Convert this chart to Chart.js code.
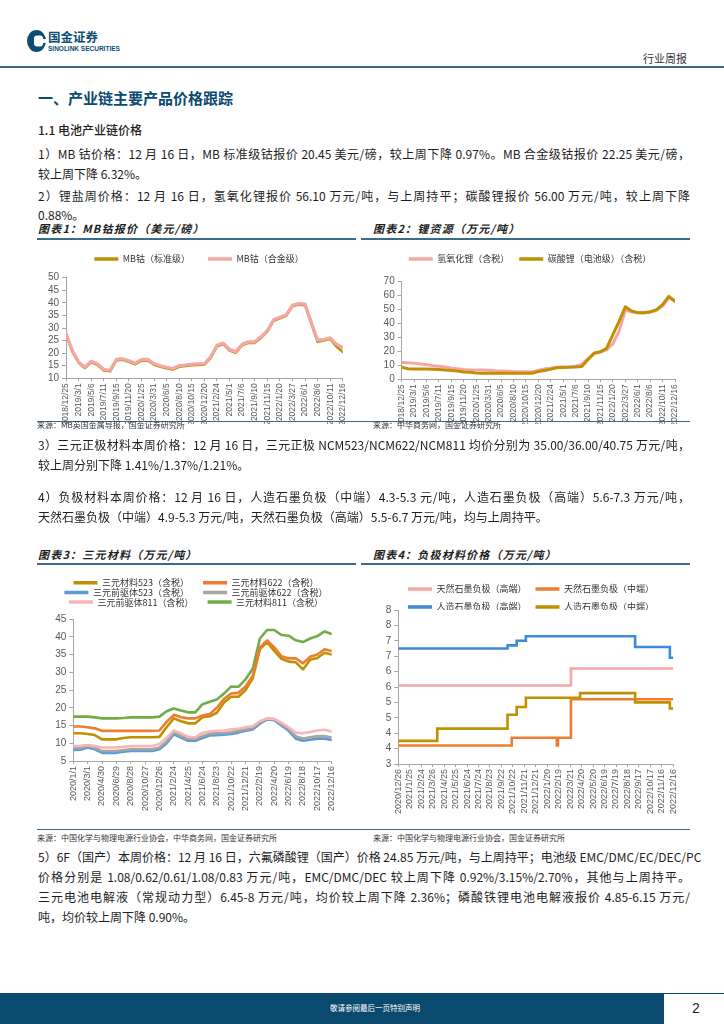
<!DOCTYPE html>
<html lang="zh-CN">
<head>
<meta charset="utf-8">
<title>产业链主要产品价格跟踪</title>
<script src="https://cdn.jsdelivr.net/npm/chart.js@4.4.1/dist/chart.umd.min.js"></script>
<style>
  html, body { margin: 0; padding: 0; background: #ffffff; }
  body { position: relative; width: 724px; height: 1024px; overflow: hidden;
         font-family: "Noto Sans CJK SC", "Noto Sans", sans-serif; color: #1e1e1e; }
  .t { position: absolute; white-space: nowrap; }
  .line { position: absolute; left: 38px; width: 652px; height: 20px; line-height: 20px; font-size: 12px; white-space: nowrap; }
  .just { text-align: justify; text-align-last: justify; }
  .ctitle { position: absolute; height: 16px; line-height: 16px; font-size: 11px; font-weight: 700; font-style: italic; letter-spacing: 1.2px; color: #1e1e1e; white-space: nowrap; }
  .rule { position: absolute; height: 1.5px; background: #3a6b8c; }
  .src { position: absolute; height: 12px; line-height: 12px; font-size: 8px; color: #333; white-space: nowrap; }
  canvas { position: absolute; }
</style>
</head>
<body>
<!-- header -->
<svg class="t" style="left:26px;top:29px" width="22" height="24" viewBox="0 0 22 24">
  <ellipse cx="10.5" cy="12" rx="9.5" ry="11" fill="#0b4d74"/>
  <rect x="8" y="6.5" width="9" height="11" rx="3" fill="#ffffff"/>
  <rect x="14" y="10" width="8" height="4" fill="#ffffff"/>
</svg>
<div class="t" style="left:48px;top:30px;font-size:12.5px;font-weight:700;color:#0b4d74;line-height:14px;">国金证券</div>
<div class="t" style="left:48px;top:45px;font-size:6.5px;font-weight:700;color:#0b4d74;line-height:8px;font-family:'Liberation Sans',Arial,sans-serif;">SINOLINK SECURITIES</div>
<div class="t" style="left:643px;top:51px;font-size:11px;line-height:14px;color:#333;">行业周报</div>
<div class="t" style="left:0;top:66px;width:724px;height:1.5px;background:#3a6886;"></div>

<div class="t" style="left:38px;top:88px;font-size:15px;line-height:20px;font-weight:700;color:#0b4a70;">一、产业链主要产品价格跟踪</div>
<div class="t" style="left:38px;top:120px;font-size:12px;line-height:20px;font-weight:500;">1.1 电池产业链价格</div>

<div class="line just" style="top:144px">1）MB 钴价格：12 月 16 日，MB 标准级钴报价 20.45 美元/磅，较上周下降 0.97%。MB 合金级钴报价 22.25 美元/磅，</div>
<div class="line" style="top:164px">较上周下降 6.32%。</div>
<div class="line just" style="top:186px">2）锂盐周价格：12 月 16 日，氢氧化锂报价 56.10 万元/吨，与上周持平；碳酸锂报价 56.00 万元/吨，较上周下降</div>
<div class="line" style="top:205px">0.88%。</div>

<div class="ctitle" style="left:38px;top:220px;">图表1：MB钴报价（美元/磅）</div>
<div class="ctitle" style="left:373px;top:220px;">图表2：锂资源（万元/吨）</div>
<div class="rule" style="left:37px;top:238px;width:319px;"></div>
<div class="rule" style="left:361px;top:238px;width:329px;"></div>

<canvas id="c1" width="318" height="188" style="left:37px;top:236px"></canvas>
<canvas id="c2" width="328" height="188" style="left:362px;top:236px"></canvas>

<div class="t" style="left:37px;top:421px;width:653px;height:1px;background:#3a6b8c;"></div>
<div class="src" style="left:37px;top:419px;">来源：MB英国金属导报，国金证券研究所</div>
<div class="src" style="left:373px;top:419px;">来源：中华商务网，国金证券研究所</div>

<div class="line just" style="top:435px">3）三元正极材料本周价格：12 月 16 日，三元正极 NCM523/NCM622/NCM811 均价分别为 35.00/36.00/40.75 万元/吨，</div>
<div class="line" style="top:455px">较上周分别下降 1.41%/1.37%/1.21%。</div>
<div class="line just" style="top:487px">4）负极材料本周价格：12 月 16 日，人造石墨负极（中端）4.3-5.3 元/吨，人造石墨负极（高端）5.6-7.3 万元/吨，</div>
<div class="line" style="top:507px">天然石墨负极（中端）4.9-5.3 万元/吨，天然石墨负极（高端）5.5-6.7 万元/吨，均与上周持平。</div>

<div class="ctitle" style="left:38px;top:546px;">图表3：三元材料（万元/吨）</div>
<div class="ctitle" style="left:373px;top:546px;">图表4：负极材料价格（万元/吨）</div>
<div class="rule" style="left:37px;top:563px;width:319px;"></div>
<div class="rule" style="left:361px;top:563px;width:329px;"></div>

<canvas id="c3" width="318" height="262" style="left:37px;top:565px"></canvas>
<canvas id="c4" width="328" height="262" style="left:362px;top:565px"></canvas>

<div class="t" style="left:37px;top:829px;width:653px;height:1px;background:#3a6b8c;"></div>
<div class="src" style="left:37px;top:832px;">来源：中国化学与物理电源行业协会，中华商务网，国金证券研究所</div>
<div class="src" style="left:373px;top:832px;">来源：中国化学与物理电源行业协会，国金证券研究所</div>

<div class="line just" style="top:847px">5）6F（国产）本周价格：12 月 16 日，六氟磷酸锂（国产）价格 24.85 万元/吨，与上周持平；电池级 EMC/DMC/EC/DEC/PC</div>
<div class="line just" style="top:867px">价格分别是 1.08/0.62/0.61/1.08/0.83 万元/吨，EMC/DMC/DEC 较上周下降 0.92%/3.15%/2.70%，其他与上周持平。</div>
<div class="line just" style="top:887px">三元电池电解液（常规动力型）6.45-8 万元/吨，均价较上周下降 2.36%；磷酸铁锂电池电解液报价 4.85-6.15 万元/</div>
<div class="line" style="top:907px">吨，均价较上周下降 0.90%。</div>

<!-- footer -->
<div class="t" style="left:0;top:993px;width:724px;height:1px;background:#0a4a6e;"></div>
<div class="t" style="left:0;top:994px;width:664px;height:30px;background:#0a4a6e;"></div>
<div class="t" style="left:0;top:1001px;width:750px;text-align:center;font-size:7.5px;line-height:14px;color:#ffffff;">敬请参阅最后一页特别声明</div>
<div class="t" style="left:692px;top:999px;font-size:14px;line-height:18px;color:#222;font-family:'Liberation Sans Narrow','Liberation Sans',sans-serif;">2</div>

<script>
// ---------------- data ----------------
// Chart 1 & 2 : x-axis tick dates (66-day spacing)
const ticksMB = ['2018/12/25','2019/3/1','2019/5/6','2019/7/11','2019/9/15','2019/11/20','2020/1/25','2020/3/31','2020/6/5','2020/8/10','2020/10/15','2020/12/20','2021/2/24','2021/5/1','2021/7/6','2021/9/10','2021/11/15','2022/1/20','2022/3/27','2022/6/1','2022/8/6','2022/10/11','2022/12/16'];
// sample days (offset from 2018/12/25)
const daysMB = [0,33,66,99,132,165,198,231,264,297,330,363,396,429,462,495,528,561,594,627,660,693,726,759,792,825,858,891,924,957,990,1023,1056,1089,1122,1155,1188,1221,1254,1287,1320,1353,1386,1419,1452];
const cobaltStd   = [27.3,20.6,16.2,14.1,16.4,15.4,13.1,12.8,17.1,17.4,16.6,15.6,17.0,17.1,15.4,14.6,14.0,13.5,14.6,14.9,15.2,15.3,15.4,18.1,22.7,23.6,21.0,20.2,23.1,24.1,24.1,26.1,28.6,32.9,33.9,34.9,38.6,39.3,39.1,31.8,24.5,25.0,25.7,22.6,20.45];
const cobaltAlloy = [27.9,21.0,16.5,14.5,16.8,15.8,13.5,13.2,17.5,17.8,17.0,16.0,17.4,17.5,15.8,15.0,14.4,13.9,15.0,15.3,15.6,15.7,15.8,18.5,23.1,24.0,21.4,20.6,23.5,24.5,24.5,26.5,29.0,33.3,34.3,35.3,39.0,39.7,39.5,32.2,25.2,25.4,26.1,23.5,22.25];
const lithiumHydroxide = [12.0,11.8,11.5,11.0,10.5,9.8,9.3,8.8,8.0,7.5,7.0,6.7,6.7,6.7,6.5,6.2,6.0,5.8,5.6,5.5,5.5,5.5,6.3,7.5,8.0,8.6,8.8,9.0,9.3,10.8,15.0,18.5,19.5,21.1,25.5,34.5,49.5,48.5,47.8,47.8,48.0,49.5,52.5,58.5,56.1];
const lithiumCarbonate = [8.6,7.6,7.4,7.4,7.4,7.2,7.0,6.6,6.3,6.0,5.2,5.0,4.5,4.3,4.3,4.3,4.3,4.3,4.3,4.3,4.3,4.3,5.6,6.3,7.3,8.3,8.5,8.6,8.8,9.2,14.2,18.8,19.8,22.3,32.0,41.5,52.0,49.0,47.8,47.8,48.5,49.8,53.5,59.5,56.0];

// Chart 3 : ternary materials (offset from 2020/1/1)
const ticksNCM = ['2020/1/1','2020/3/1','2020/4/30','2020/6/29','2020/8/28','2020/10/27','2020/12/26','2021/2/24','2021/4/25','2021/6/24','2021/8/23','2021/10/22','2021/12/21','2022/2/19','2022/4/20','2022/6/19','2022/8/18','2022/10/17','2022/12/16'];
const daysNCM = [0,30,60,90,120,150,180,210,240,270,300,330,360,390,420,450,480,510,540,570,600,630,660,690,720,750,780,810,840,870,900,930,960,990,1020,1050,1080];
const mat523 = [12.8,12.8,12.6,12.3,11.1,11.1,11.1,11.5,11.7,11.7,11.7,11.7,11.8,14.5,17.0,16.2,15.6,15.6,17.3,17.6,18.6,21.5,23.1,23.1,25.0,28.3,36.5,38.5,36.0,33.8,33.0,32.8,30.8,33.5,34.0,35.5,35.0];
const mat622 = [14.7,14.7,14.5,14.2,13.5,13.5,13.5,13.5,13.5,13.5,13.5,13.5,13.6,16.0,18.0,17.3,17.0,17.0,17.8,18.2,20.0,22.5,24.0,24.2,26.0,29.0,37.0,39.0,37.0,34.5,33.9,33.9,32.5,34.4,35.0,36.5,36.0];
const pre523 = [8.1,8.2,8.8,8.3,7.3,7.3,7.3,7.6,7.8,7.8,7.8,7.8,8.3,10.0,12.5,11.6,10.7,10.7,11.5,12.2,12.3,12.4,12.6,13.0,13.5,13.9,15.5,16.7,16.5,15.0,13.5,11.3,10.7,11.0,11.3,11.3,10.9];
const pre622 = [8.6,8.7,9.2,8.8,7.8,7.8,7.8,8.1,8.3,8.3,8.3,8.3,8.8,10.5,13.0,12.1,11.2,11.2,12.0,12.7,12.8,12.9,13.1,13.5,13.9,14.3,15.9,16.9,16.8,15.4,14.0,12.0,11.3,11.7,12.0,12.0,11.6];
const pre811 = [9.2,9.3,9.5,9.2,8.8,8.8,8.8,9.0,9.2,9.2,9.2,9.2,9.8,11.5,13.6,12.8,11.8,11.7,12.9,13.3,13.5,13.6,13.9,14.1,14.5,14.8,16.2,17.0,16.8,15.8,14.5,13.0,12.8,13.2,13.6,13.8,13.3];
const mat811 = [17.5,17.5,17.5,17.3,17.0,17.0,17.0,17.1,17.3,17.3,17.3,17.3,17.5,19.0,19.8,19.2,18.7,18.7,21.0,21.7,22.3,24.0,26.0,25.9,28.0,31.0,39.5,41.9,41.9,40.5,40.3,39.0,38.5,39.5,40.2,41.5,40.8];

// Chart 4 : anode materials (price change points)
const ticksAnode = ['2020/12/26','2021/1/25','2021/2/24','2021/3/26','2021/4/25','2021/5/25','2021/6/24','2021/7/24','2021/8/23','2021/9/22','2021/10/22','2021/11/21','2021/12/21','2022/1/20','2022/2/19','2022/3/21','2022/4/20','2022/5/20','2022/6/19','2022/7/19','2022/8/18','2022/9/17','2022/10/17','2022/11/16','2022/12/16'];
const anodeYLabels = ['3','4','4','5','5','6','6','7','7','8','8'];
const natHighDates = ['2020/12/26','2022/3/23','2022/12/16'];
const natHighVals  = [5.55,6.1,6.1];
const natMidDates  = ['2020/12/26','2021/10/19','2022/2/14','2022/2/17','2022/3/23','2022/12/16'];
const natMidVals   = [3.6,3.85,3.6,3.85,5.1,5.1];
const artHighDates = ['2020/12/26','2021/10/8','2021/11/1','2021/11/25','2022/9/7','2022/12/7','2022/12/16'];
const artHighVals  = [6.75,6.85,7.0,7.15,6.8,6.45,6.45];
const artMidDates  = ['2020/12/26','2021/4/7','2021/10/8','2021/11/1','2021/11/25','2022/4/16','2022/9/7','2022/12/7','2022/12/16'];
const artMidVals   = [3.75,4.15,4.6,4.85,5.15,5.3,5.0,4.8,4.8];

// ---------------- helpers ----------------
const TICK_COLOR = '#595959';
const AXIS_COLOR = '#a6a6a6';
const NUM_FONT = '"Liberation Sans", Arial, sans-serif';
const CJK_FONT = '"Noto Sans CJK SC", "Noto Sans", sans-serif';

function dayOffset(start, d) {
  const [a, b, c] = start.split('/').map(Number);
  const [x, y, z] = d.split('/').map(Number);
  return Math.round((Date.UTC(x, y - 1, z) - Date.UTC(a, b - 1, c)) / 86400000);
}
function pts(days, vals) { return days.map((d, i) => ({x: d, y: vals[i]})); }
function datePts(start, dates, vals) { return dates.map((d, i) => ({x: dayOffset(start, d), y: vals[i]})); }

function line(label, color, data, order, extra) {
  return Object.assign({
    label, data, order,
    borderColor: color, backgroundColor: color,
    borderWidth: 2.6, pointRadius: 0, tension: 0, fill: false,
    borderJoinStyle: 'round', borderCapStyle: 'round'
  }, extra || {});
}

function makeChart(id, L, datasets, xTicks, yCfg, legendPadText) {
  const padR = L.left + L.w - L.plotRight;
  const yWidth = L.plotLeft - L.left;
  const legendShift = (L.legendX - L.left) - (L.w - padR) / 2;
  const padT = L.legendY - L.top - L.legendPad - L.legendFont / 2;
  const extra = L.plotTop - (L.top + padT + L.rows * (L.legendFont + L.legendPad) + 10);
  const xHeight = L.top + L.h - L.plotBottom;
  const start = xTicks[0];
  const tickDays = xTicks.map(d => dayOffset(start, d));

  return new Chart(document.getElementById(id), {
    type: 'line',
    data: { datasets },
    options: {
      responsive: false, animation: false, events: [],
      layout: { padding: { left: 0, right: padR, top: padT, bottom: 0 } },
      plugins: {
        tooltip: { enabled: false },
        legend: {
          display: true, position: 'top', align: 'center',
          labels: {
            boxWidth: 24, boxHeight: 3.5, padding: L.legendPad, color: '#333',
            font: { family: CJK_FONT, size: L.legendFont },
            sort: (a, b) => a.datasetIndex - b.datasetIndex,
            generateLabels(chart) {
              const items = Chart.defaults.plugins.legend.labels.generateLabels(chart);
              items.forEach(it => {
                it.lineWidth = 0;
                it.fillStyle = chart.data.datasets[it.datasetIndex].borderColor;
                if (legendPadText && legendPadText[it.datasetIndex]) it.text = it.text + legendPadText[it.datasetIndex];
              });
              return items;
            }
          }
        }
      },
      scales: {
        x: {
          type: 'linear', min: 0, max: tickDays[tickDays.length - 1],
          afterBuildTicks: s => { s.ticks = tickDays.map(v => ({value: v})); },
          afterFit: s => { s.height = xHeight; },
          ticks: {
            autoSkip: false, minRotation: 90, maxRotation: 90, padding: 2,
            color: TICK_COLOR, font: { family: NUM_FONT, size: L.xFont },
            callback: (v, i) => xTicks[i]
          },
          grid: { display: true, drawOnChartArea: false, drawTicks: true, tickLength: 3, color: AXIS_COLOR },
          border: { display: true, color: AXIS_COLOR, width: 1 }
        },
        y: {
          type: 'linear', min: yCfg.min, max: yCfg.max,
          afterFit: s => { s.width = yWidth; },
          ticks: {
            stepSize: yCfg.step, padding: 3, color: TICK_COLOR, autoSkip: false,
            font: { family: NUM_FONT, size: 10 },
            callback: yCfg.labels ? ((v, i) => yCfg.labels[i]) : (v => v)
          },
          grid: { display: true, drawOnChartArea: false, drawTicks: true, tickLength: 4, color: AXIS_COLOR },
          border: { display: true, color: AXIS_COLOR, width: 1 }
        }
      }
    },
    plugins: [{
      id: 'legendGap',
      beforeInit(chart) {
        const fit = chart.legend.fit;
        chart.legend.fit = function () { fit.call(chart.legend); this.height += extra; };
      },
      afterLayout(chart) {
        chart.legend.left += legendShift;
        chart.legend.right += legendShift;
      }
    }]
  });
}

const GOLD = '#BF9000', PINK = '#F4A7A5', ORANGE = '#ED7D31', BLUE = '#5B9BD5',
      GREY = '#A5A5A5', LPINK = '#F7B7B5', GREEN = '#70AD47', BLUE2 = '#3F8AD6';

// Chart 1
makeChart('c1',
  {left:37, top:236, w:318, h:188, plotLeft:66, plotRight:343.3, plotTop:277.7, plotBottom:378.3,
   legendY:259, legendX:199, legendFont:9, legendPad:18, rows:1, xFont:8.5},
  [
    line('MB钴（标准级）', GOLD, pts(daysMB, cobaltStd), 1, {borderWidth: 2.6}),
    line('MB钴（合金级）', PINK, pts(daysMB, cobaltAlloy), 0, {borderWidth: 3.2})
  ],
  ticksMB, {min:10, max:50, step:5});

// Chart 2
makeChart('c2',
  {left:362, top:236, w:328, h:188, plotLeft:401.7, plotRight:675, plotTop:281.7, plotBottom:379.3,
   legendY:259, legendX:530, legendFont:9, legendPad:10, rows:1, xFont:8.5},
  [
    line('氢氧化锂（含税）', PINK, pts(daysMB, lithiumHydroxide), 1, {borderWidth: 3}),
    line('碳酸锂（电池级）（含税）', GOLD, pts(daysMB, lithiumCarbonate), 0, {borderWidth: 3})
  ],
  ticksMB, {min:0, max:70, step:10});

// Chart 3
makeChart('c3',
  {left:37, top:565, w:318, h:262, plotLeft:73.3, plotRight:331.7, plotTop:619, plotBottom:761,
   legendY:582.7, legendX:196, legendFont:9, legendPad:0.7, rows:3, xFont:9},
  [
    line('三元材料523（含税）', GOLD, pts(daysNCM, mat523), 1),
    line('三元材料622（含税）', ORANGE, pts(daysNCM, mat622), 0),
    line('三元前驱体523（含税）', BLUE, pts(daysNCM, pre523), 5),
    line('三元前驱体622（含税）', GREY, pts(daysNCM, pre622), 4),
    line('三元前驱体811（含税）', LPINK, pts(daysNCM, pre811), 3),
    line('三元材料811（含税）', GREEN, pts(daysNCM, mat811), 2)
  ],
  ticksNCM, {min:5, max:45, step:5},
  ['\u2002\u2002\u2002', '', '\u2002\u2002\u2002', '', '\u2002\u2002\u2002', '']);

// Chart 4
const s4 = ticksAnode[0];
makeChart('c4',
  {left:362, top:565, w:328, h:262, plotLeft:398.3, plotRight:673.3, plotTop:610, plotBottom:764,
   legendY:589, legendX:531, legendFont:9, legendPad:9, rows:2, xFont:9},
  [
    line('天然石墨负极（高端）', PINK, datePts(s4, natHighDates, natHighVals), 3, {stepped: true, borderCapStyle: 'butt', borderJoinStyle: 'miter'}),
    line('天然石墨负极（中端）', ORANGE, datePts(s4, natMidDates, natMidVals), 2, {stepped: true, borderCapStyle: 'butt', borderJoinStyle: 'miter'}),
    line('人造石墨负极（高端）', BLUE2, datePts(s4, artHighDates, artHighVals), 1, {stepped: true, borderCapStyle: 'butt', borderJoinStyle: 'miter'}),
    line('人造石墨负极（中端）', GOLD, datePts(s4, artMidDates, artMidVals), 0, {stepped: true, borderCapStyle: 'butt', borderJoinStyle: 'miter'})
  ],
  ticksAnode, {min:3, max:8, step:0.5, labels: anodeYLabels});
</script>
</body>
</html>
